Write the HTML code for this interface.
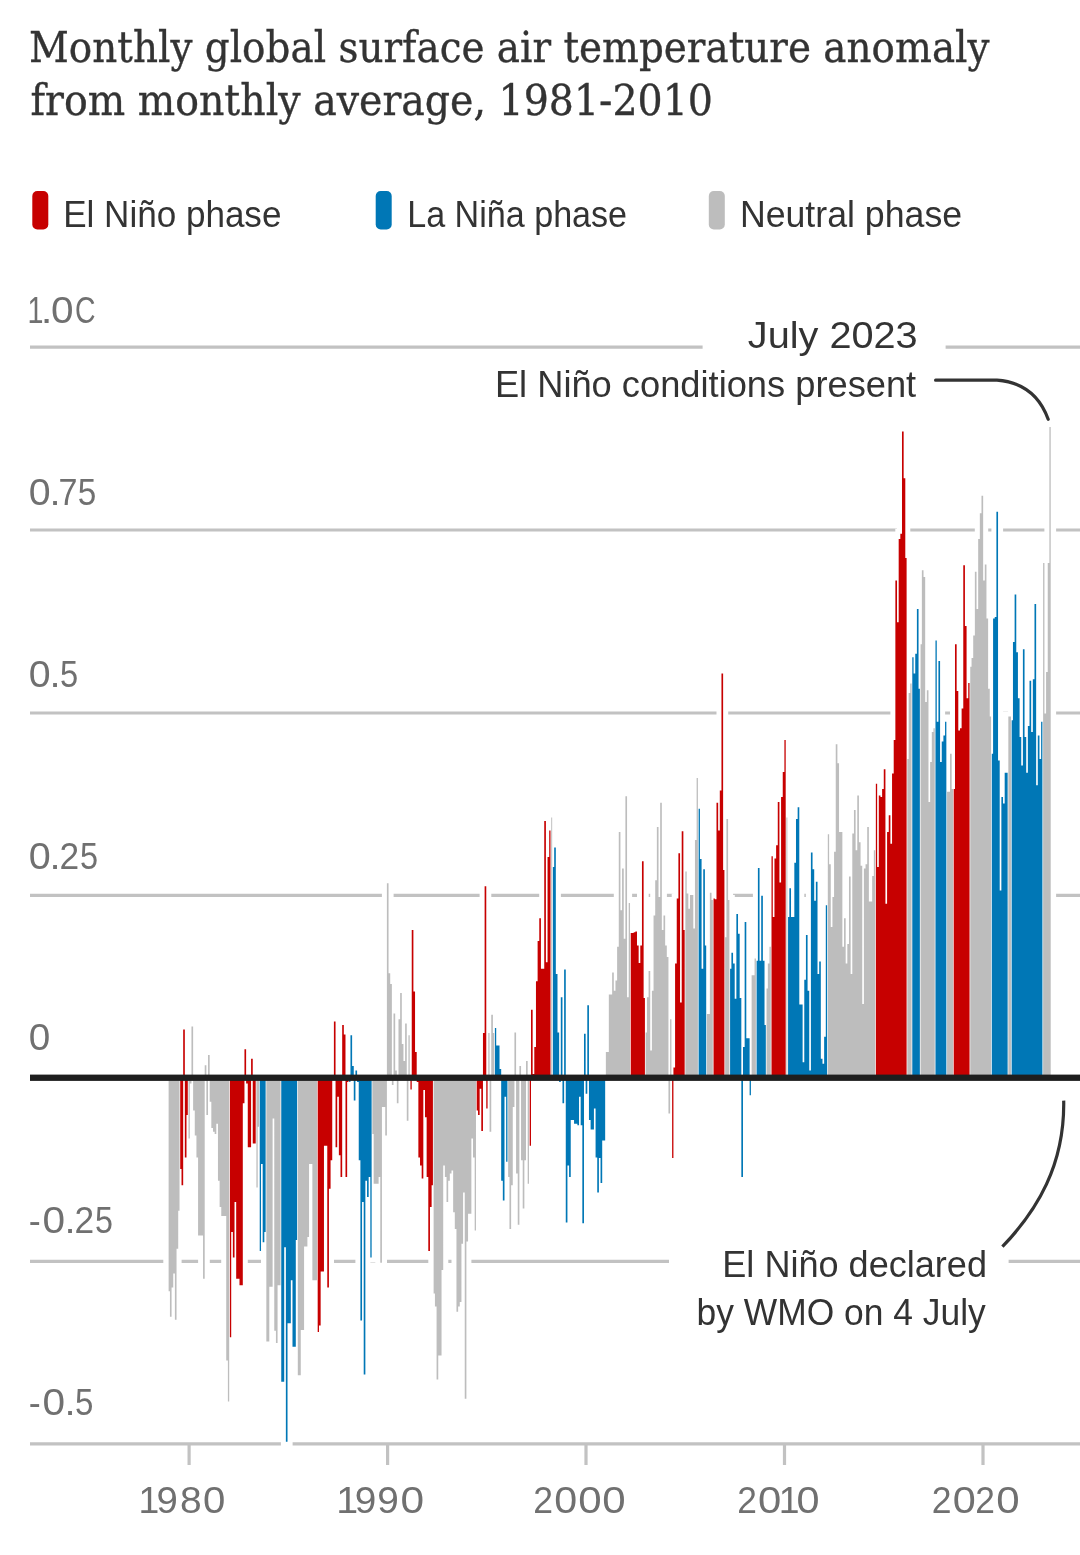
<!DOCTYPE html>
<html lang="en"><head><meta charset="utf-8"><title>Monthly global surface air temperature anomaly</title>
<style>html,body{margin:0;padding:0;background:#fff}body{width:1080px;height:1555px;overflow:hidden}svg{display:block}.ttl{font-family:"DejaVu Serif","Liberation Serif",serif;font-size:42px;fill:#333;stroke:#333;stroke-width:.35px}.lg{font-family:"Liberation Sans",sans-serif;font-size:36px;fill:#333}.ax{font-family:"Liberation Sans",sans-serif;font-size:36px;fill:#707070}.an{font-family:"Liberation Sans",sans-serif;font-size:36px;fill:#333}</style></head><body>
<svg width="1080" height="1555" viewBox="0 0 1080 1555">
<rect width="1080" height="1555" fill="#fff"/>
<text class="ttl" x="29.00" y="62.3" textLength="960.50" lengthAdjust="spacingAndGlyphs">Monthly global surface air temperature anomaly</text>
<text class="ttl" x="30.40" y="115.0" textLength="682.60" lengthAdjust="spacingAndGlyphs">from monthly average, 1981-2010</text>
<rect x="32.3" y="191" width="16" height="38.5" rx="5" ry="5" fill="#c70000"/>
<text class="lg" x="63.20" y="226.5" textLength="218.20" lengthAdjust="spacingAndGlyphs">El Niño phase</text>
<rect x="375.7" y="191" width="16" height="38.5" rx="5" ry="5" fill="#0077b6"/>
<text class="lg" x="407.20" y="226.5" textLength="219.90" lengthAdjust="spacingAndGlyphs">La Niña phase</text>
<rect x="708.8" y="191" width="16" height="38.5" rx="5" ry="5" fill="#bdbdbd"/>
<text class="lg" x="739.90" y="226.5" textLength="222.20" lengthAdjust="spacingAndGlyphs">Neutral phase</text>
<g stroke="#c2c2c2" stroke-width="3.2">
<line x1="30" x2="1080" y1="347.2" y2="347.2"/>
<line x1="30" x2="1080" y1="530.0" y2="530.0"/>
<line x1="30" x2="1080" y1="713.0" y2="713.0"/>
<line x1="30" x2="1080" y1="895.3" y2="895.3"/>
<line x1="30" x2="1080" y1="1261.4" y2="1261.4"/>
<line x1="30" x2="1080" y1="1443.9" y2="1443.9"/>
<line x1="189.1" x2="189.1" y1="1444" y2="1465"/>
<line x1="387.6" x2="387.6" y1="1444" y2="1465"/>
<line x1="586.0" x2="586.0" y1="1444" y2="1465"/>
<line x1="784.5" x2="784.5" y1="1444" y2="1465"/>
<line x1="983.0" x2="983.0" y1="1444" y2="1465"/>
</g>
<text class="ax" y="322.8"><tspan x="27.54" textLength="15.98" lengthAdjust="spacingAndGlyphs">1</tspan><tspan x="40.65" textLength="11.70" lengthAdjust="spacingAndGlyphs">.</tspan><tspan x="50.91" textLength="22.57" lengthAdjust="spacingAndGlyphs">0</tspan><tspan x="74.96" textLength="20.53" lengthAdjust="spacingAndGlyphs">C</tspan></text>
<text class="ax" y="504.7"><tspan x="28.76" textLength="21.87" lengthAdjust="spacingAndGlyphs">0</tspan><tspan x="49.44" textLength="11.11" lengthAdjust="spacingAndGlyphs">.</tspan><tspan x="58.55" textLength="18.97" lengthAdjust="spacingAndGlyphs">7</tspan><tspan x="77.87" textLength="18.53" lengthAdjust="spacingAndGlyphs">5</tspan></text>
<text class="ax" y="686.5"><tspan x="28.76" textLength="21.87" lengthAdjust="spacingAndGlyphs">0</tspan><tspan x="49.44" textLength="11.11" lengthAdjust="spacingAndGlyphs">.</tspan><tspan x="60.09" textLength="18.18" lengthAdjust="spacingAndGlyphs">5</tspan></text>
<text class="ax" y="868.6"><tspan x="28.65" textLength="21.99" lengthAdjust="spacingAndGlyphs">0</tspan><tspan x="49.44" textLength="11.11" lengthAdjust="spacingAndGlyphs">.</tspan><tspan x="59.62" textLength="19.65" lengthAdjust="spacingAndGlyphs">2</tspan><tspan x="79.90" textLength="18.06" lengthAdjust="spacingAndGlyphs">5</tspan></text>
<text class="ax" y="1050.4"><tspan x="28.78" textLength="21.52" lengthAdjust="spacingAndGlyphs">0</tspan></text>
<text class="ax" y="1232.7"><tspan x="28.70" textLength="12.00" lengthAdjust="spacingAndGlyphs">-</tspan><tspan x="42.61" textLength="22.57" lengthAdjust="spacingAndGlyphs">0</tspan><tspan x="64.44" textLength="11.11" lengthAdjust="spacingAndGlyphs">.</tspan><tspan x="74.62" textLength="19.65" lengthAdjust="spacingAndGlyphs">2</tspan><tspan x="95.11" textLength="17.94" lengthAdjust="spacingAndGlyphs">5</tspan></text>
<text class="ax" y="1414.8"><tspan x="28.70" textLength="12.00" lengthAdjust="spacingAndGlyphs">-</tspan><tspan x="42.61" textLength="22.57" lengthAdjust="spacingAndGlyphs">0</tspan><tspan x="64.44" textLength="11.11" lengthAdjust="spacingAndGlyphs">.</tspan><tspan x="75.08" textLength="18.41" lengthAdjust="spacingAndGlyphs">5</tspan></text>
<text class="ax" y="1512.8"><tspan x="138.41" textLength="20.77" lengthAdjust="spacingAndGlyphs">1</tspan><tspan x="156.50" textLength="21.31" lengthAdjust="spacingAndGlyphs">9</tspan><tspan x="180.01" textLength="21.68" lengthAdjust="spacingAndGlyphs">8</tspan><tspan x="203.13" textLength="22.33" lengthAdjust="spacingAndGlyphs">0</tspan></text>
<text class="ax" y="1512.8"><tspan x="336.21" textLength="21.91" lengthAdjust="spacingAndGlyphs">1</tspan><tspan x="354.78" textLength="21.55" lengthAdjust="spacingAndGlyphs">9</tspan><tspan x="377.38" textLength="21.55" lengthAdjust="spacingAndGlyphs">9</tspan><tspan x="400.44" textLength="23.61" lengthAdjust="spacingAndGlyphs">0</tspan></text>
<text class="ax" y="1512.8"><tspan x="533.21" textLength="19.78" lengthAdjust="spacingAndGlyphs">2</tspan><tspan x="554.29" textLength="22.92" lengthAdjust="spacingAndGlyphs">0</tspan><tspan x="578.15" textLength="23.38" lengthAdjust="spacingAndGlyphs">0</tspan><tspan x="602.25" textLength="23.38" lengthAdjust="spacingAndGlyphs">0</tspan></text>
<text class="ax" y="1512.8"><tspan x="737.22" textLength="19.65" lengthAdjust="spacingAndGlyphs">2</tspan><tspan x="758.06" textLength="23.27" lengthAdjust="spacingAndGlyphs">0</tspan><tspan x="778.71" textLength="20.77" lengthAdjust="spacingAndGlyphs">1</tspan><tspan x="796.48" textLength="23.03" lengthAdjust="spacingAndGlyphs">0</tspan></text>
<text class="ax" y="1512.8"><tspan x="931.71" textLength="19.78" lengthAdjust="spacingAndGlyphs">2</tspan><tspan x="952.78" textLength="23.03" lengthAdjust="spacingAndGlyphs">0</tspan><tspan x="975.32" textLength="19.65" lengthAdjust="spacingAndGlyphs">2</tspan><tspan x="996.25" textLength="23.38" lengthAdjust="spacingAndGlyphs">0</tspan></text>
<path fill="#fff" d="M163.3 1072.7h11.7v223.5h-11.7zM164.9 1072.7h11.7v249.1h-11.7zM166.6 1072.7h11.7v219.8h-11.7zM168.2 1072.7h11.7v205.9h-11.7zM169.9 1072.7h11.7v252.0h-11.7zM171.6 1072.7h11.7v181.1h-11.7zM173.2 1072.7h11.7v143.1h-11.7zM174.9 1072.7h11.7v101.4h-11.7zM176.5 1072.7h11.7v117.5h-11.7zM178.2 1024.4h11.7v58.3h-11.7zM179.8 1072.7h11.7v89.7h-11.7zM181.5 1072.7h11.7v47.3h-11.7zM183.1 1072.7h11.7v70.7h-11.7zM184.8 1072.7h11.7v15.8h-11.7zM186.5 1021.5h11.7v61.2h-11.7zM188.1 1072.7h11.7v42.9h-11.7zM189.8 1072.7h11.7v67.8h-11.7zM191.4 1072.7h11.7v89.7h-11.7zM193.1 1072.7h11.7v167.9h-11.7zM194.7 1072.7h11.7v167.9h-11.7zM196.4 1072.7h11.7v167.9h-11.7zM198.1 1072.7h11.7v211.1h-11.7zM199.7 1060.3h11.7v22.4h-11.7zM201.4 1072.7h11.7v47.3h-11.7zM203.0 1050.0h11.7v32.7h-11.7zM204.7 1072.7h11.7v34.1h-11.7zM206.3 1072.7h11.7v60.4h-11.7zM208.0 1072.7h11.7v64.1h-11.7zM209.6 1072.7h11.7v66.3h-11.7zM211.3 1072.7h11.7v56.1h-11.7zM213.0 1072.7h11.7v113.1h-11.7zM214.6 1072.7h11.7v139.4h-11.7zM216.3 1072.7h11.7v148.2h-11.7zM217.9 1072.7h11.7v148.2h-11.7zM219.6 1072.7h11.7v148.2h-11.7zM221.2 1072.7h11.7v292.9h-11.7zM222.9 1072.7h11.7v333.9h-11.7zM224.6 1072.7h11.7v269.5h-11.7zM226.2 1072.7h11.7v164.3h-11.7zM227.9 1072.7h11.7v189.9h-11.7zM229.5 1072.7h11.7v134.3h-11.7zM231.2 1072.7h11.7v211.1h-11.7zM232.8 1072.7h11.7v211.1h-11.7zM234.5 1072.7h11.7v217.6h-11.7zM236.1 1072.7h11.7v217.6h-11.7zM237.8 1072.7h11.7v35.6h-11.7zM239.5 1044.2h11.7v38.5h-11.7zM241.1 1072.7h11.7v15.8h-11.7zM242.8 1072.7h11.7v79.5h-11.7zM244.4 1072.7h11.7v79.5h-11.7zM246.1 1053.7h11.7v29.0h-11.7zM247.7 1072.7h11.7v75.8h-11.7zM249.4 1072.7h11.7v75.8h-11.7zM251.1 1072.7h11.7v119.7h-11.7zM252.7 1072.7h11.7v59.0h-11.7zM254.4 1072.7h11.7v183.3h-11.7zM256.0 1072.7h11.7v96.3h-11.7zM257.7 1072.7h11.7v174.5h-11.7zM259.3 1072.7h11.7v164.3h-11.7zM261.0 1072.7h11.7v273.9h-11.7zM262.6 1072.7h11.7v273.9h-11.7zM264.3 1072.7h11.7v219.1h-11.7zM266.0 1072.7h11.7v219.1h-11.7zM267.6 1072.7h11.7v50.9h-11.7zM269.3 1072.7h11.7v263.0h-11.7zM270.9 1072.7h11.7v275.4h-11.7zM272.6 1072.7h11.7v217.6h-11.7zM274.2 1072.7h11.7v217.6h-11.7zM275.9 1072.7h11.7v314.1h-11.7zM277.6 1072.7h11.7v314.1h-11.7zM279.2 1072.7h11.7v179.6h-11.7zM280.9 1072.7h11.7v374.1h-11.7zM282.5 1072.7h11.7v255.6h-11.7zM284.2 1072.7h11.7v255.6h-11.7zM285.8 1072.7h11.7v212.5h-11.7zM287.5 1072.7h11.7v279.0h-11.7zM289.1 1072.7h11.7v279.0h-11.7zM290.8 1072.7h11.7v172.3h-11.7zM292.5 1072.7h11.7v307.6h-11.7zM294.1 1072.7h11.7v307.6h-11.7zM295.8 1072.7h11.7v262.2h-11.7zM297.4 1072.7h11.7v262.2h-11.7zM299.1 1072.7h11.7v178.9h-11.7zM300.7 1072.7h11.7v178.9h-11.7zM302.4 1072.7h11.7v169.4h-11.7zM304.1 1072.7h11.7v96.3h-11.7zM305.7 1072.7h11.7v96.3h-11.7zM307.4 1072.7h11.7v212.5h-11.7zM309.0 1072.7h11.7v212.5h-11.7zM310.7 1072.7h11.7v212.5h-11.7zM312.3 1072.7h11.7v264.4h-11.7zM314.0 1072.7h11.7v257.8h-11.7zM315.6 1072.7h11.7v203.7h-11.7zM317.3 1072.7h11.7v203.7h-11.7zM319.0 1072.7h11.7v78.0h-11.7zM320.6 1072.7h11.7v78.0h-11.7zM322.3 1072.7h11.7v219.8h-11.7zM323.9 1072.7h11.7v121.1h-11.7zM325.6 1072.7h11.7v92.6h-11.7zM327.2 1072.7h11.7v12.2h-11.7zM328.9 1016.4h11.7v66.3h-11.7zM330.6 1072.7h11.7v79.5h-11.7zM332.2 1072.7h11.7v29.0h-11.7zM333.9 1072.7h11.7v87.5h-11.7zM335.5 1072.7h11.7v109.4h-11.7zM337.2 1020.1h11.7v62.6h-11.7zM338.8 1029.6h11.7v53.1h-11.7zM340.5 1072.7h11.7v109.4h-11.7zM342.1 1072.7h11.7v14.4h-11.7zM343.8 1072.7h11.7v14.4h-11.7zM345.5 1030.3h11.7v52.4h-11.7zM347.1 1061.0h11.7v21.7h-11.7zM348.8 1072.7h11.7v32.7h-11.7zM350.4 1065.4h11.7v17.3h-11.7zM352.1 1072.7h11.7v14.4h-11.7zM353.7 1072.7h11.7v92.6h-11.7zM355.4 1072.7h11.7v252.7h-11.7zM357.1 1072.7h11.7v134.3h-11.7zM358.7 1072.7h11.7v306.8h-11.7zM360.4 1072.7h11.7v113.1h-11.7zM362.0 1072.7h11.7v129.2h-11.7zM363.7 1072.7h11.7v109.4h-11.7zM365.3 1072.7h11.7v189.9h-11.7zM367.0 1072.7h11.7v66.3h-11.7zM368.6 1072.7h11.7v116.0h-11.7zM370.3 1072.7h11.7v116.0h-11.7zM372.0 1072.7h11.7v116.0h-11.7zM373.6 1072.7h11.7v109.4h-11.7zM375.3 1072.7h11.7v195.0h-11.7zM376.9 1072.7h11.7v39.2h-11.7zM378.6 1072.7h11.7v39.2h-11.7zM380.2 1072.7h11.7v67.8h-11.7zM381.9 878.2h11.7v204.5h-11.7zM383.6 968.2h11.7v114.5h-11.7zM385.2 979.1h11.7v103.6h-11.7zM386.9 1072.7h11.7v17.3h-11.7zM388.5 1008.4h11.7v74.3h-11.7zM390.2 1065.4h11.7v17.3h-11.7zM391.8 1072.7h11.7v35.6h-11.7zM393.5 1014.2h11.7v68.5h-11.7zM395.1 987.9h11.7v94.8h-11.7zM396.8 1039.1h11.7v43.6h-11.7zM398.5 1055.9h11.7v26.8h-11.7zM400.1 1018.6h11.7v64.1h-11.7zM401.8 1072.7h11.7v53.1h-11.7zM403.4 1030.3h11.7v52.4h-11.7zM405.1 1072.7h11.7v21.7h-11.7zM406.7 925.0h11.7v157.7h-11.7zM408.4 986.4h11.7v96.3h-11.7zM410.1 1047.1h11.7v35.6h-11.7zM411.7 1072.7h11.7v14.4h-11.7zM413.4 1072.7h11.7v89.7h-11.7zM415.0 1072.7h11.7v97.7h-11.7zM416.7 1072.7h11.7v110.9h-11.7zM418.3 1072.7h11.7v22.4h-11.7zM420.0 1072.7h11.7v49.5h-11.7zM421.6 1072.7h11.7v109.4h-11.7zM423.3 1072.7h11.7v183.3h-11.7zM425.0 1072.7h11.7v139.4h-11.7zM426.6 1072.7h11.7v117.5h-11.7zM428.3 1072.7h11.7v225.7h-11.7zM429.9 1072.7h11.7v238.8h-11.7zM431.6 1072.7h11.7v311.9h-11.7zM433.2 1072.7h11.7v287.8h-11.7zM434.9 1072.7h11.7v287.8h-11.7zM436.6 1072.7h11.7v202.3h-11.7zM438.2 1072.7h11.7v97.7h-11.7zM439.9 1072.7h11.7v109.4h-11.7zM441.5 1072.7h11.7v134.3h-11.7zM443.2 1072.7h11.7v113.1h-11.7zM444.8 1072.7h11.7v105.8h-11.7zM446.5 1072.7h11.7v102.8h-11.7zM448.1 1072.7h11.7v144.5h-11.7zM449.8 1072.7h11.7v161.3h-11.7zM451.5 1072.7h11.7v244.0h-11.7zM453.1 1072.7h11.7v238.8h-11.7zM454.8 1072.7h11.7v234.4h-11.7zM456.4 1072.7h11.7v176.0h-11.7zM458.1 1072.7h11.7v124.8h-11.7zM459.7 1072.7h11.7v331.0h-11.7zM461.4 1072.7h11.7v173.8h-11.7zM463.1 1072.7h11.7v146.0h-11.7zM464.7 1072.7h11.7v146.0h-11.7zM466.4 1072.7h11.7v70.7h-11.7zM468.0 1072.7h11.7v89.7h-11.7zM469.7 1072.7h11.7v162.8h-11.7zM471.3 1072.7h11.7v42.9h-11.7zM473.0 1072.7h11.7v47.3h-11.7zM474.6 1072.7h11.7v21.0h-11.7zM476.3 1072.7h11.7v63.4h-11.7zM478.0 1028.1h11.7v54.6h-11.7zM479.6 881.2h11.7v201.5h-11.7zM481.3 1072.7h11.7v40.7h-11.7zM482.9 1028.1h11.7v54.6h-11.7zM484.6 1072.7h11.7v64.1h-11.7zM486.2 1009.8h11.7v72.9h-11.7zM487.9 1028.1h11.7v54.6h-11.7zM489.6 1023.0h11.7v59.7h-11.7zM491.2 1040.5h11.7v42.2h-11.7zM492.9 1040.5h11.7v42.2h-11.7zM494.5 1063.9h11.7v18.8h-11.7zM496.2 1072.7h11.7v113.1h-11.7zM497.8 1072.7h11.7v132.8h-11.7zM499.5 1072.7h11.7v29.0h-11.7zM501.1 1072.7h11.7v94.1h-11.7zM502.8 1072.7h11.7v109.4h-11.7zM504.5 1072.7h11.7v161.3h-11.7zM506.1 1072.7h11.7v117.5h-11.7zM507.8 1072.7h11.7v39.2h-11.7zM509.4 1027.4h11.7v55.3h-11.7zM511.1 1072.7h11.7v105.8h-11.7zM512.7 1072.7h11.7v157.0h-11.7zM514.4 1061.0h11.7v21.7h-11.7zM516.1 1072.7h11.7v92.6h-11.7zM517.7 1072.7h11.7v140.9h-11.7zM519.4 1072.7h11.7v92.6h-11.7zM521.0 1055.9h11.7v26.8h-11.7zM522.7 1072.7h11.7v116.0h-11.7zM524.3 1072.7h11.7v78.0h-11.7zM526.0 1004.7h11.7v78.0h-11.7zM527.6 1069.0h11.7v13.7h-11.7zM529.3 1042.0h11.7v40.7h-11.7zM531.0 976.2h11.7v106.5h-11.7zM532.6 936.0h11.7v146.7h-11.7zM534.3 913.3h11.7v169.4h-11.7zM535.9 963.8h11.7v118.9h-11.7zM537.6 963.8h11.7v118.9h-11.7zM539.2 816.1h11.7v266.6h-11.7zM540.9 957.2h11.7v125.5h-11.7zM542.6 851.9h11.7v230.8h-11.7zM544.2 825.6h11.7v257.1h-11.7zM545.9 812.4h11.7v270.3h-11.7zM547.5 862.1h11.7v220.6h-11.7zM549.2 842.4h11.7v240.3h-11.7zM550.8 968.9h11.7v113.8h-11.7zM552.5 1027.4h11.7v55.3h-11.7zM554.1 1072.7h11.7v14.4h-11.7zM555.8 992.3h11.7v90.4h-11.7zM557.5 1072.7h11.7v35.6h-11.7zM559.1 964.5h11.7v118.2h-11.7zM560.8 1072.7h11.7v154.8h-11.7zM562.4 1072.7h11.7v97.7h-11.7zM564.1 1072.7h11.7v109.4h-11.7zM565.7 1072.7h11.7v52.4h-11.7zM567.4 1072.7h11.7v52.4h-11.7zM569.1 1072.7h11.7v56.1h-11.7zM570.7 1072.7h11.7v56.1h-11.7zM572.4 1072.7h11.7v57.5h-11.7zM574.0 1072.7h11.7v29.0h-11.7zM575.7 1072.7h11.7v57.5h-11.7zM577.3 1072.7h11.7v155.5h-11.7zM579.0 1028.8h11.7v53.9h-11.7zM580.6 1072.7h11.7v26.1h-11.7zM582.3 1000.3h11.7v82.4h-11.7zM584.0 1072.7h11.7v52.4h-11.7zM585.6 1072.7h11.7v61.9h-11.7zM587.3 1072.7h11.7v61.9h-11.7zM588.9 1072.7h11.7v40.7h-11.7zM590.6 1072.7h11.7v89.7h-11.7zM592.2 1072.7h11.7v124.8h-11.7zM593.9 1072.7h11.7v90.4h-11.7zM595.6 1072.7h11.7v115.3h-11.7zM597.2 1072.7h11.7v72.9h-11.7zM598.9 1072.7h11.7v72.9h-11.7zM600.5 1047.1h11.7v35.6h-11.7zM602.2 1047.1h11.7v35.6h-11.7zM603.8 989.4h11.7v93.3h-11.7zM605.5 989.4h11.7v93.3h-11.7zM607.1 967.4h11.7v115.3h-11.7zM608.8 985.7h11.7v97.0h-11.7zM610.5 975.5h11.7v107.2h-11.7zM612.1 941.8h11.7v140.9h-11.7zM613.8 827.1h11.7v255.6h-11.7zM615.4 905.3h11.7v177.4h-11.7zM617.1 863.6h11.7v219.1h-11.7zM618.7 933.8h11.7v148.9h-11.7zM620.4 791.2h11.7v291.5h-11.7zM622.1 992.3h11.7v90.4h-11.7zM623.7 898.0h11.7v184.7h-11.7zM625.4 927.9h11.7v154.8h-11.7zM627.0 927.9h11.7v154.8h-11.7zM628.7 927.2h11.7v155.5h-11.7zM630.3 926.5h11.7v156.2h-11.7zM632.0 940.4h11.7v142.3h-11.7zM633.6 957.9h11.7v124.8h-11.7zM635.3 940.4h11.7v142.3h-11.7zM637.0 856.3h11.7v226.4h-11.7zM638.6 993.0h11.7v89.7h-11.7zM640.3 1027.4h11.7v55.3h-11.7zM641.9 992.3h11.7v90.4h-11.7zM643.6 966.0h11.7v116.7h-11.7zM645.2 1045.6h11.7v37.1h-11.7zM646.9 985.7h11.7v97.0h-11.7zM648.6 910.4h11.7v172.3h-11.7zM650.2 875.3h11.7v207.4h-11.7zM651.9 821.9h11.7v260.8h-11.7zM653.5 892.1h11.7v190.6h-11.7zM655.2 797.8h11.7v284.9h-11.7zM656.8 925.0h11.7v157.7h-11.7zM658.5 910.4h11.7v172.3h-11.7zM660.1 940.4h11.7v142.3h-11.7zM661.8 952.1h11.7v130.6h-11.7zM663.5 1072.7h11.7v45.8h-11.7zM665.1 1014.2h11.7v68.5h-11.7zM666.8 1072.7h11.7v90.4h-11.7zM668.4 1062.5h11.7v20.2h-11.7zM670.1 958.6h11.7v124.1h-11.7zM671.7 893.6h11.7v189.1h-11.7zM673.4 848.3h11.7v234.4h-11.7zM675.1 997.4h11.7v85.3h-11.7zM676.7 826.3h11.7v256.4h-11.7zM678.4 925.0h11.7v157.7h-11.7zM680.0 866.5h11.7v216.2h-11.7zM681.7 888.5h11.7v194.2h-11.7zM683.3 903.8h11.7v178.9h-11.7zM685.0 889.9h11.7v192.8h-11.7zM686.6 889.9h11.7v192.8h-11.7zM688.3 923.6h11.7v159.1h-11.7zM690.0 835.1h11.7v247.6h-11.7zM691.6 772.9h11.7v309.8h-11.7zM693.3 803.7h11.7v279.0h-11.7zM694.9 854.1h11.7v228.6h-11.7zM696.6 963.8h11.7v118.9h-11.7zM698.2 864.3h11.7v218.4h-11.7zM699.9 940.4h11.7v142.3h-11.7zM701.6 1009.1h11.7v73.6h-11.7zM703.2 1009.1h11.7v73.6h-11.7zM704.9 887.7h11.7v195.0h-11.7zM706.5 895.0h11.7v187.7h-11.7zM708.2 893.6h11.7v189.1h-11.7zM709.8 894.3h11.7v188.4h-11.7zM711.5 797.8h11.7v284.9h-11.7zM713.1 825.6h11.7v257.1h-11.7zM714.8 785.4h11.7v297.3h-11.7zM716.5 668.4h11.7v414.3h-11.7zM718.1 865.1h11.7v217.6h-11.7zM719.8 932.3h11.7v150.4h-11.7zM721.4 813.9h11.7v268.8h-11.7zM723.1 895.0h11.7v187.7h-11.7zM724.7 963.8h11.7v118.9h-11.7zM726.4 947.7h11.7v135.0h-11.7zM728.1 958.6h11.7v124.1h-11.7zM729.7 993.7h11.7v89.0h-11.7zM731.4 908.9h11.7v173.8h-11.7zM733.0 928.7h11.7v154.0h-11.7zM734.7 993.0h11.7v89.7h-11.7zM736.3 1072.7h11.7v109.4h-11.7zM738.0 1042.0h11.7v40.7h-11.7zM739.6 917.0h11.7v165.7h-11.7zM741.3 1033.2h11.7v49.5h-11.7zM743.0 1033.2h11.7v49.5h-11.7zM744.6 1072.7h11.7v27.5h-11.7zM746.3 970.3h11.7v112.4h-11.7zM747.9 970.3h11.7v112.4h-11.7zM749.6 953.5h11.7v129.2h-11.7zM751.2 955.7h11.7v127.0h-11.7zM752.9 862.9h11.7v219.8h-11.7zM754.6 955.7h11.7v127.0h-11.7zM756.2 890.7h11.7v192.0h-11.7zM757.9 955.7h11.7v127.0h-11.7zM759.5 1020.1h11.7v62.6h-11.7zM761.2 983.5h11.7v99.2h-11.7zM762.8 958.6h11.7v124.1h-11.7zM764.5 941.8h11.7v140.9h-11.7zM766.1 851.2h11.7v231.5h-11.7zM767.8 911.9h11.7v170.8h-11.7zM769.5 853.4h11.7v229.3h-11.7zM771.1 840.2h11.7v242.5h-11.7zM772.8 797.1h11.7v285.6h-11.7zM774.4 877.5h11.7v205.2h-11.7zM776.1 792.0h11.7v290.7h-11.7zM777.7 767.1h11.7v315.6h-11.7zM779.4 734.9h11.7v347.8h-11.7zM781.1 812.4h11.7v270.3h-11.7zM782.7 911.9h11.7v170.8h-11.7zM784.4 883.3h11.7v199.4h-11.7zM786.0 911.9h11.7v170.8h-11.7zM787.7 911.9h11.7v170.8h-11.7zM789.3 857.8h11.7v224.9h-11.7zM791.0 813.9h11.7v268.8h-11.7zM792.6 802.2h11.7v280.5h-11.7zM794.3 999.6h11.7v83.1h-11.7zM796.0 999.6h11.7v83.1h-11.7zM797.6 1057.3h11.7v25.4h-11.7zM799.3 974.7h11.7v108.0h-11.7zM800.9 930.1h11.7v152.6h-11.7zM802.6 985.7h11.7v97.0h-11.7zM804.2 1065.4h11.7v17.3h-11.7zM805.9 847.5h11.7v235.2h-11.7zM807.6 864.3h11.7v218.4h-11.7zM809.2 895.8h11.7v186.9h-11.7zM810.9 876.8h11.7v205.9h-11.7zM812.5 968.9h11.7v113.8h-11.7zM814.2 956.5h11.7v126.2h-11.7zM815.8 1053.7h11.7v29.0h-11.7zM817.5 1058.8h11.7v23.9h-11.7zM819.1 1031.8h11.7v50.9h-11.7zM820.8 900.2h11.7v182.5h-11.7zM822.5 829.2h11.7v253.5h-11.7zM824.1 859.2h11.7v223.5h-11.7zM825.8 922.1h11.7v160.6h-11.7zM827.4 892.1h11.7v190.6h-11.7zM829.1 846.8h11.7v235.9h-11.7zM830.7 739.3h11.7v343.4h-11.7zM832.4 758.3h11.7v324.4h-11.7zM834.1 827.1h11.7v255.6h-11.7zM835.7 827.1h11.7v255.6h-11.7zM837.4 941.8h11.7v140.9h-11.7zM839.0 913.3h11.7v169.4h-11.7zM840.7 958.6h11.7v124.1h-11.7zM842.3 938.9h11.7v143.8h-11.7zM844.0 871.6h11.7v211.1h-11.7zM845.6 968.9h11.7v113.8h-11.7zM847.3 828.5h11.7v254.2h-11.7zM849.0 805.1h11.7v277.6h-11.7zM850.6 845.3h11.7v237.4h-11.7zM852.3 790.5h11.7v292.2h-11.7zM853.9 837.3h11.7v245.4h-11.7zM855.6 860.7h11.7v222.0h-11.7zM857.2 998.9h11.7v83.8h-11.7zM858.9 863.6h11.7v219.1h-11.7zM860.6 859.2h11.7v223.5h-11.7zM862.2 821.9h11.7v260.8h-11.7zM863.9 896.5h11.7v186.2h-11.7zM865.5 896.5h11.7v186.2h-11.7zM867.2 870.9h11.7v211.8h-11.7zM868.8 845.3h11.7v237.4h-11.7zM870.5 778.8h11.7v303.9h-11.7zM872.1 862.1h11.7v220.6h-11.7zM873.8 790.5h11.7v292.2h-11.7zM875.5 792.0h11.7v290.7h-11.7zM877.1 783.9h11.7v298.8h-11.7zM878.8 764.2h11.7v318.5h-11.7zM880.4 898.7h11.7v184.0h-11.7zM882.1 827.1h11.7v255.6h-11.7zM883.7 810.2h11.7v272.5h-11.7zM885.4 838.7h11.7v244.0h-11.7zM887.1 768.6h11.7v314.1h-11.7zM888.7 734.9h11.7v347.8h-11.7zM890.4 575.6h11.7v507.1h-11.7zM892.0 617.2h11.7v465.5h-11.7zM893.7 533.9h11.7v548.8h-11.7zM895.3 528.8h11.7v553.9h-11.7zM897.0 426.4h11.7v656.3h-11.7zM898.6 473.2h11.7v609.5h-11.7zM900.3 552.9h11.7v529.8h-11.7zM902.0 753.9h11.7v328.8h-11.7zM903.6 688.1h11.7v394.6h-11.7zM905.3 678.6h11.7v404.1h-11.7zM906.9 652.3h11.7v430.4h-11.7zM908.6 668.4h11.7v414.3h-11.7zM910.2 648.7h11.7v434.0h-11.7zM911.9 604.1h11.7v478.6h-11.7zM913.6 683.8h11.7v398.9h-11.7zM915.2 639.2h11.7v443.5h-11.7zM916.9 565.3h11.7v517.4h-11.7zM918.5 571.9h11.7v510.8h-11.7zM920.2 696.9h11.7v385.8h-11.7zM921.8 685.2h11.7v397.5h-11.7zM923.5 797.1h11.7v285.6h-11.7zM925.1 756.9h11.7v325.8h-11.7zM926.8 726.9h11.7v355.8h-11.7zM928.5 723.2h11.7v359.5h-11.7zM930.1 635.5h11.7v447.2h-11.7zM931.8 716.7h11.7v366.0h-11.7zM933.4 656.0h11.7v426.7h-11.7zM935.1 756.9h11.7v325.8h-11.7zM936.7 736.4h11.7v346.3h-11.7zM938.4 730.5h11.7v352.2h-11.7zM940.1 716.7h11.7v366.0h-11.7zM941.7 786.8h11.7v295.9h-11.7zM943.4 786.8h11.7v295.9h-11.7zM945.0 748.8h11.7v333.9h-11.7zM946.7 783.9h11.7v298.8h-11.7zM948.3 783.9h11.7v298.8h-11.7zM950.0 639.2h11.7v443.5h-11.7zM951.6 685.9h11.7v396.8h-11.7zM953.3 725.4h11.7v357.3h-11.7zM955.0 723.2h11.7v359.5h-11.7zM956.6 703.5h11.7v379.2h-11.7zM958.3 560.2h11.7v522.5h-11.7zM959.9 620.9h11.7v461.8h-11.7zM961.6 693.3h11.7v389.4h-11.7zM963.2 677.9h11.7v404.8h-11.7zM964.9 661.8h11.7v420.9h-11.7zM966.6 653.0h11.7v429.7h-11.7zM968.2 630.4h11.7v452.3h-11.7zM969.9 566.8h11.7v515.9h-11.7zM971.5 604.1h11.7v478.6h-11.7zM973.2 533.9h11.7v548.8h-11.7zM974.8 508.3h11.7v574.4h-11.7zM976.5 490.7h11.7v592.0h-11.7zM978.1 575.6h11.7v507.1h-11.7zM979.8 559.5h11.7v523.2h-11.7zM981.5 613.6h11.7v469.1h-11.7zM983.1 683.8h11.7v398.9h-11.7zM984.8 711.5h11.7v371.2h-11.7zM986.4 748.8h11.7v333.9h-11.7zM988.1 613.6h11.7v469.1h-11.7zM989.7 612.1h11.7v470.6h-11.7zM991.4 506.8h11.7v575.9h-11.7zM993.1 755.4h11.7v327.3h-11.7zM994.7 885.5h11.7v197.2h-11.7zM996.4 792.0h11.7v290.7h-11.7zM998.0 798.5h11.7v284.2h-11.7zM999.7 767.8h11.7v314.9h-11.7zM1001.3 767.8h11.7v314.9h-11.7zM1003.0 711.5h11.7v371.2h-11.7zM1004.6 711.5h11.7v371.2h-11.7zM1006.3 715.2h11.7v367.5h-11.7zM1008.0 637.0h11.7v445.7h-11.7zM1009.6 589.4h11.7v493.3h-11.7zM1011.3 647.2h11.7v435.5h-11.7zM1012.9 693.3h11.7v389.4h-11.7zM1014.6 732.0h11.7v350.7h-11.7zM1016.2 760.5h11.7v322.2h-11.7zM1017.9 644.3h11.7v438.4h-11.7zM1019.6 732.0h11.7v350.7h-11.7zM1021.2 767.8h11.7v314.9h-11.7zM1022.9 721.0h11.7v361.7h-11.7zM1024.5 675.7h11.7v407.0h-11.7zM1026.2 726.9h11.7v355.8h-11.7zM1027.8 674.3h11.7v408.4h-11.7zM1029.5 598.9h11.7v483.8h-11.7zM1031.1 780.3h11.7v302.4h-11.7zM1032.8 730.5h11.7v352.2h-11.7zM1034.5 753.9h11.7v328.8h-11.7zM1036.1 716.7h11.7v366.0h-11.7zM1037.8 558.0h11.7v524.7h-11.7zM1039.4 708.6h11.7v374.1h-11.7zM1041.1 666.9h11.7v415.8h-11.7zM1042.7 558.0h11.7v524.7h-11.7zM1044.4 422.0h11.7v660.7h-11.7z"/>
<path fill="#bdbdbd" d="M168.62 1077.7L169.93 1077.7L169.93 1077.7L171.58 1077.7L171.58 1077.7L173.24 1077.7L173.24 1077.7L174.90 1077.7L174.90 1077.7L176.55 1077.7L176.55 1077.7L178.21 1077.7L178.21 1077.7L179.52 1077.7L179.52 1210.8L178.21 1210.8L178.21 1248.8L176.55 1248.8L176.55 1319.7L174.90 1319.7L174.90 1273.6L173.24 1273.6L173.24 1287.5L171.58 1287.5L171.58 1316.8L169.93 1316.8L169.93 1291.2L168.62 1291.2zM188.50 1077.7L189.80 1077.7L189.80 1077.7L191.46 1077.7L191.46 1026.5L193.12 1026.5L193.12 1077.7L194.77 1077.7L194.77 1077.7L196.43 1077.7L196.43 1077.7L198.08 1077.7L198.08 1077.7L199.74 1077.7L199.74 1077.7L201.40 1077.7L201.40 1077.7L203.05 1077.7L203.05 1077.7L204.71 1077.7L204.71 1065.3L206.37 1065.3L206.37 1077.7L208.02 1077.7L208.02 1055.0L209.68 1055.0L209.68 1077.7L211.33 1077.7L211.33 1077.7L212.99 1077.7L212.99 1077.7L214.65 1077.7L214.65 1077.7L216.30 1077.7L216.30 1077.7L217.96 1077.7L217.96 1077.7L219.62 1077.7L219.62 1077.7L221.27 1077.7L221.27 1077.7L222.93 1077.7L222.93 1077.7L224.58 1077.7L224.58 1077.7L226.24 1077.7L226.24 1077.7L227.90 1077.7L227.90 1077.7L229.20 1077.7L229.20 1401.6L227.90 1401.6L227.90 1360.6L226.24 1360.6L226.24 1215.9L224.58 1215.9L224.58 1215.9L222.93 1215.9L222.93 1215.9L221.27 1215.9L221.27 1207.1L219.62 1207.1L219.62 1180.8L217.96 1180.8L217.96 1123.8L216.30 1123.8L216.30 1134.0L214.65 1134.0L214.65 1131.8L212.99 1131.8L212.99 1128.1L211.33 1128.1L211.33 1101.8L209.68 1101.8L209.68 1077.7L208.02 1077.7L208.02 1115.0L206.37 1115.0L206.37 1077.7L204.71 1077.7L204.71 1278.8L203.05 1278.8L203.05 1235.6L201.40 1235.6L201.40 1235.6L199.74 1235.6L199.74 1235.6L198.08 1235.6L198.08 1157.4L196.43 1157.4L196.43 1135.5L194.77 1135.5L194.77 1110.6L193.12 1110.6L193.12 1077.7L191.46 1077.7L191.46 1083.5L189.80 1083.5L189.80 1138.4L188.50 1138.4zM256.40 1077.7L257.71 1077.7L257.71 1077.7L259.02 1077.7L259.02 1126.7L257.71 1126.7L257.71 1187.4L256.40 1187.4zM266.34 1077.7L267.65 1077.7L267.65 1077.7L269.30 1077.7L269.30 1077.7L270.96 1077.7L270.96 1077.7L272.62 1077.7L272.62 1077.7L274.27 1077.7L274.27 1077.7L275.93 1077.7L275.93 1077.7L277.58 1077.7L277.58 1077.7L279.24 1077.7L279.24 1077.7L280.55 1077.7L280.55 1285.3L279.24 1285.3L279.24 1285.3L277.58 1285.3L277.58 1343.1L275.93 1343.1L275.93 1330.7L274.27 1330.7L274.27 1118.6L272.62 1118.6L272.62 1286.8L270.96 1286.8L270.96 1286.8L269.30 1286.8L269.30 1341.6L267.65 1341.6L267.65 1341.6L266.34 1341.6zM297.81 1077.7L299.12 1077.7L299.12 1077.7L300.77 1077.7L300.77 1077.7L302.43 1077.7L302.43 1077.7L304.08 1077.7L304.08 1077.7L305.74 1077.7L305.74 1077.7L307.40 1077.7L307.40 1077.7L309.05 1077.7L309.05 1077.7L310.71 1077.7L310.71 1077.7L312.37 1077.7L312.37 1077.7L314.02 1077.7L314.02 1077.7L315.68 1077.7L315.68 1077.7L316.98 1077.7L316.98 1280.2L315.68 1280.2L315.68 1280.2L314.02 1280.2L314.02 1280.2L312.37 1280.2L312.37 1164.0L310.71 1164.0L310.71 1164.0L309.05 1164.0L309.05 1237.1L307.40 1237.1L307.40 1246.6L305.74 1246.6L305.74 1246.6L304.08 1246.6L304.08 1329.9L302.43 1329.9L302.43 1329.9L300.77 1329.9L300.77 1375.3L299.12 1375.3L299.12 1375.3L297.81 1375.3zM372.34 1077.7L373.65 1077.7L373.65 1077.7L375.30 1077.7L375.30 1077.7L376.96 1077.7L376.96 1077.7L378.62 1077.7L378.62 1077.7L380.27 1077.7L380.27 1077.7L381.93 1077.7L381.93 1077.7L383.58 1077.7L383.58 1077.7L385.24 1077.7L385.24 1077.7L386.90 1077.7L386.90 883.2L388.55 883.2L388.55 973.2L390.21 973.2L390.21 984.1L391.87 984.1L391.87 1077.7L393.52 1077.7L393.52 1013.4L395.18 1013.4L395.18 1070.4L396.83 1070.4L396.83 1077.7L398.49 1077.7L398.49 1019.2L400.15 1019.2L400.15 992.9L401.80 992.9L401.80 1044.1L403.46 1044.1L403.46 1060.9L405.12 1060.9L405.12 1023.6L406.77 1023.6L406.77 1077.7L408.43 1077.7L408.43 1035.3L409.73 1035.3L409.73 1077.7L408.43 1077.7L408.43 1120.8L406.77 1120.8L406.77 1077.7L405.12 1077.7L405.12 1077.7L403.46 1077.7L403.46 1077.7L401.80 1077.7L401.80 1077.7L400.15 1077.7L400.15 1077.7L398.49 1077.7L398.49 1103.3L396.83 1103.3L396.83 1077.7L395.18 1077.7L395.18 1077.7L393.52 1077.7L393.52 1085.0L391.87 1085.0L391.87 1077.7L390.21 1077.7L390.21 1077.7L388.55 1077.7L388.55 1077.7L386.90 1077.7L386.90 1135.5L385.24 1135.5L385.24 1106.9L383.58 1106.9L383.58 1106.9L381.93 1106.9L381.93 1262.7L380.27 1262.7L380.27 1177.1L378.62 1177.1L378.62 1183.7L376.96 1183.7L376.96 1183.7L375.30 1183.7L375.30 1183.7L373.65 1183.7L373.65 1134.0L372.34 1134.0zM433.62 1077.7L434.93 1077.7L434.93 1077.7L436.58 1077.7L436.58 1077.7L438.24 1077.7L438.24 1077.7L439.90 1077.7L439.90 1077.7L441.55 1077.7L441.55 1077.7L443.21 1077.7L443.21 1077.7L444.87 1077.7L444.87 1077.7L446.52 1077.7L446.52 1077.7L448.18 1077.7L448.18 1077.7L449.83 1077.7L449.83 1077.7L451.49 1077.7L451.49 1077.7L453.15 1077.7L453.15 1077.7L454.80 1077.7L454.80 1077.7L456.46 1077.7L456.46 1077.7L458.12 1077.7L458.12 1077.7L459.77 1077.7L459.77 1077.7L461.43 1077.7L461.43 1077.7L463.08 1077.7L463.08 1077.7L464.74 1077.7L464.74 1077.7L466.40 1077.7L466.40 1077.7L468.05 1077.7L468.05 1077.7L469.71 1077.7L469.71 1077.7L471.37 1077.7L471.37 1077.7L473.02 1077.7L473.02 1077.7L474.68 1077.7L474.68 1077.7L475.98 1077.7L475.98 1230.5L474.68 1230.5L474.68 1157.4L473.02 1157.4L473.02 1138.4L471.37 1138.4L471.37 1213.7L469.71 1213.7L469.71 1213.7L468.05 1213.7L468.05 1241.5L466.40 1241.5L466.40 1398.7L464.74 1398.7L464.74 1192.5L463.08 1192.5L463.08 1243.7L461.43 1243.7L461.43 1302.1L459.77 1302.1L459.77 1306.5L458.12 1306.5L458.12 1311.7L456.46 1311.7L456.46 1229.0L454.80 1229.0L454.80 1212.2L453.15 1212.2L453.15 1170.5L451.49 1170.5L451.49 1173.5L449.83 1173.5L449.83 1180.8L448.18 1180.8L448.18 1202.0L446.52 1202.0L446.52 1177.1L444.87 1177.1L444.87 1165.4L443.21 1165.4L443.21 1270.0L441.55 1270.0L441.55 1355.5L439.90 1355.5L439.90 1355.5L438.24 1355.5L438.24 1379.6L436.58 1379.6L436.58 1306.5L434.93 1306.5L434.93 1293.4L433.62 1293.4zM488.28 1033.1L489.58 1033.1L489.58 1077.7L491.24 1077.7L491.24 1014.8L492.90 1014.8L492.90 1033.1L494.20 1033.1L494.20 1077.7L492.90 1077.7L492.90 1077.7L491.24 1077.7L491.24 1131.8L489.58 1131.8L489.58 1077.7L488.28 1077.7zM508.15 1077.7L509.46 1077.7L509.46 1077.7L511.12 1077.7L511.12 1077.7L512.77 1077.7L512.77 1077.7L514.43 1077.7L514.43 1032.4L516.08 1032.4L516.08 1077.7L517.74 1077.7L517.74 1077.7L519.40 1077.7L519.40 1066.0L521.05 1066.0L521.05 1077.7L522.71 1077.7L522.71 1077.7L524.37 1077.7L524.37 1077.7L526.02 1077.7L526.02 1060.9L527.68 1060.9L527.68 1077.7L528.98 1077.7L528.98 1183.7L527.68 1183.7L527.68 1077.7L526.02 1077.7L526.02 1160.3L524.37 1160.3L524.37 1208.6L522.71 1208.6L522.71 1160.3L521.05 1160.3L521.05 1077.7L519.40 1077.7L519.40 1224.7L517.74 1224.7L517.74 1173.5L516.08 1173.5L516.08 1077.7L514.43 1077.7L514.43 1106.9L512.77 1106.9L512.77 1185.2L511.12 1185.2L511.12 1229.0L509.46 1229.0L509.46 1177.1L508.15 1177.1zM551.22 817.4L552.17 817.4L552.17 1077.7L551.22 1077.7zM605.87 1052.1L607.18 1052.1L607.18 1052.1L608.83 1052.1L608.83 994.4L610.49 994.4L610.49 994.4L612.15 994.4L612.15 972.4L613.80 972.4L613.80 990.7L615.46 990.7L615.46 980.5L617.12 980.5L617.12 946.8L618.77 946.8L618.77 832.1L620.43 832.1L620.43 910.3L622.08 910.3L622.08 868.6L623.74 868.6L623.74 938.8L625.40 938.8L625.40 796.2L627.05 796.2L627.05 997.3L628.71 997.3L628.71 903.0L630.02 903.0L630.02 1077.7L628.71 1077.7L628.71 1077.7L627.05 1077.7L627.05 1077.7L625.40 1077.7L625.40 1077.7L623.74 1077.7L623.74 1077.7L622.08 1077.7L622.08 1077.7L620.43 1077.7L620.43 1077.7L618.77 1077.7L618.77 1077.7L617.12 1077.7L617.12 1077.7L615.46 1077.7L615.46 1077.7L613.80 1077.7L613.80 1077.7L612.15 1077.7L612.15 1077.7L610.49 1077.7L610.49 1077.7L608.83 1077.7L608.83 1077.7L607.18 1077.7L607.18 1077.7L605.87 1077.7zM645.62 1032.4L646.93 1032.4L646.93 997.3L648.58 997.3L648.58 971.0L650.24 971.0L650.24 1050.6L651.90 1050.6L651.90 990.7L653.55 990.7L653.55 915.4L655.21 915.4L655.21 880.3L656.87 880.3L656.87 826.9L658.52 826.9L658.52 897.1L660.18 897.1L660.18 802.8L661.83 802.8L661.83 930.0L663.49 930.0L663.49 915.4L665.15 915.4L665.15 945.4L666.80 945.4L666.80 957.1L668.46 957.1L668.46 1077.7L670.12 1077.7L670.12 1019.2L671.42 1019.2L671.42 1077.7L670.12 1077.7L670.12 1113.5L668.46 1113.5L668.46 1077.7L666.80 1077.7L666.80 1077.7L665.15 1077.7L665.15 1077.7L663.49 1077.7L663.49 1077.7L661.83 1077.7L661.83 1077.7L660.18 1077.7L660.18 1077.7L658.52 1077.7L658.52 1077.7L656.87 1077.7L656.87 1077.7L655.21 1077.7L655.21 1077.7L653.55 1077.7L653.55 1077.7L651.90 1077.7L651.90 1077.7L650.24 1077.7L650.24 1077.7L648.58 1077.7L648.58 1077.7L646.93 1077.7L646.93 1077.7L645.62 1077.7zM685.37 871.5L686.68 871.5L686.68 893.5L688.33 893.5L688.33 908.8L689.99 908.8L689.99 894.9L691.65 894.9L691.65 894.9L693.30 894.9L693.30 928.6L694.96 928.6L694.96 840.1L696.62 840.1L696.62 777.9L697.92 777.9L697.92 1077.7L696.62 1077.7L696.62 1077.7L694.96 1077.7L694.96 1077.7L693.30 1077.7L693.30 1077.7L691.65 1077.7L691.65 1077.7L689.99 1077.7L689.99 1077.7L688.33 1077.7L688.33 1077.7L686.68 1077.7L686.68 1077.7L685.37 1077.7zM706.90 1014.1L708.21 1014.1L708.21 1014.1L709.87 1014.1L709.87 892.7L711.52 892.7L711.52 900.0L712.83 900.0L712.83 1077.7L711.52 1077.7L711.52 1077.7L709.87 1077.7L709.87 1077.7L708.21 1077.7L708.21 1077.7L706.90 1077.7zM725.12 937.3L726.43 937.3L726.43 818.9L728.08 818.9L728.08 900.0L729.39 900.0L729.39 1077.7L728.08 1077.7L728.08 1077.7L726.43 1077.7L726.43 1077.7L725.12 1077.7zM751.62 975.3L752.93 975.3L752.93 975.3L754.58 975.3L754.58 958.5L755.89 958.5L755.89 1077.7L754.58 1077.7L754.58 1077.7L752.93 1077.7L752.93 1077.7L751.62 1077.7zM766.53 988.5L767.83 988.5L767.83 963.6L769.49 963.6L769.49 946.8L770.80 946.8L770.80 1077.7L769.49 1077.7L769.49 1077.7L767.83 1077.7L767.83 1077.7L766.53 1077.7zM786.40 817.4L787.36 817.4L787.36 1077.7L786.40 1077.7zM827.81 834.2L829.12 834.2L829.12 864.2L830.77 864.2L830.77 927.1L832.43 927.1L832.43 897.1L834.08 897.1L834.08 851.8L835.74 851.8L835.74 744.3L837.40 744.3L837.40 763.3L839.05 763.3L839.05 832.1L840.71 832.1L840.71 832.1L842.37 832.1L842.37 946.8L844.02 946.8L844.02 918.3L845.68 918.3L845.68 963.6L847.33 963.6L847.33 943.9L848.99 943.9L848.99 876.6L850.65 876.6L850.65 973.9L852.30 973.9L852.30 833.5L853.96 833.5L853.96 810.1L855.62 810.1L855.62 850.3L857.27 850.3L857.27 795.5L858.93 795.5L858.93 842.3L860.58 842.3L860.58 865.7L862.24 865.7L862.24 1003.9L863.90 1003.9L863.90 868.6L865.55 868.6L865.55 864.2L867.21 864.2L867.21 826.9L868.87 826.9L868.87 901.5L870.52 901.5L870.52 901.5L872.18 901.5L872.18 875.9L873.83 875.9L873.83 850.3L875.14 850.3L875.14 1077.7L873.83 1077.7L873.83 1077.7L872.18 1077.7L872.18 1077.7L870.52 1077.7L870.52 1077.7L868.87 1077.7L868.87 1077.7L867.21 1077.7L867.21 1077.7L865.55 1077.7L865.55 1077.7L863.90 1077.7L863.90 1077.7L862.24 1077.7L862.24 1077.7L860.58 1077.7L860.58 1077.7L858.93 1077.7L858.93 1077.7L857.27 1077.7L857.27 1077.7L855.62 1077.7L855.62 1077.7L853.96 1077.7L853.96 1077.7L852.30 1077.7L852.30 1077.7L850.65 1077.7L850.65 1077.7L848.99 1077.7L848.99 1077.7L847.33 1077.7L847.33 1077.7L845.68 1077.7L845.68 1077.7L844.02 1077.7L844.02 1077.7L842.37 1077.7L842.37 1077.7L840.71 1077.7L840.71 1077.7L839.05 1077.7L839.05 1077.7L837.40 1077.7L837.40 1077.7L835.74 1077.7L835.74 1077.7L834.08 1077.7L834.08 1077.7L832.43 1077.7L832.43 1077.7L830.77 1077.7L830.77 1077.7L829.12 1077.7L829.12 1077.7L827.81 1077.7zM907.31 758.9L908.62 758.9L908.62 693.1L910.27 693.1L910.27 683.6L911.58 683.6L911.58 1077.7L910.27 1077.7L910.27 1077.7L908.62 1077.7L908.62 1077.7L907.31 1077.7zM920.56 644.2L921.87 644.2L921.87 570.3L923.52 570.3L923.52 576.9L925.18 576.9L925.18 701.9L926.83 701.9L926.83 690.2L928.49 690.2L928.49 802.1L930.15 802.1L930.15 761.9L931.80 761.9L931.80 731.9L933.46 731.9L933.46 728.2L934.77 728.2L934.77 1077.7L933.46 1077.7L933.46 1077.7L931.80 1077.7L931.80 1077.7L930.15 1077.7L930.15 1077.7L928.49 1077.7L928.49 1077.7L926.83 1077.7L926.83 1077.7L925.18 1077.7L925.18 1077.7L923.52 1077.7L923.52 1077.7L921.87 1077.7L921.87 1077.7L920.56 1077.7zM947.06 791.8L948.37 791.8L948.37 791.8L950.02 791.8L950.02 753.8L951.68 753.8L951.68 788.9L952.98 788.9L952.98 1077.7L951.68 1077.7L951.68 1077.7L950.02 1077.7L950.02 1077.7L948.37 1077.7L948.37 1077.7L947.06 1077.7zM970.25 666.8L971.55 666.8L971.55 658.0L973.21 658.0L973.21 635.4L974.87 635.4L974.87 571.8L976.52 571.8L976.52 609.1L978.18 609.1L978.18 538.9L979.83 538.9L979.83 513.3L981.49 513.3L981.49 495.7L983.15 495.7L983.15 580.6L984.80 580.6L984.80 564.5L986.46 564.5L986.46 618.6L988.12 618.6L988.12 688.8L989.77 688.8L989.77 716.5L991.08 716.5L991.08 1077.7L989.77 1077.7L989.77 1077.7L988.12 1077.7L988.12 1077.7L986.46 1077.7L986.46 1077.7L984.80 1077.7L984.80 1077.7L983.15 1077.7L983.15 1077.7L981.49 1077.7L981.49 1077.7L979.83 1077.7L979.83 1077.7L978.18 1077.7L978.18 1077.7L976.52 1077.7L976.52 1077.7L974.87 1077.7L974.87 1077.7L973.21 1077.7L973.21 1077.7L971.55 1077.7L971.55 1077.7L970.25 1077.7zM1008.34 716.5L1009.65 716.5L1009.65 716.5L1010.95 716.5L1010.95 1077.7L1009.65 1077.7L1009.65 1077.7L1008.34 1077.7zM1043.12 563.0L1044.43 563.0L1044.43 713.6L1046.08 713.6L1046.08 671.9L1047.74 671.9L1047.74 563.0L1049.40 563.0L1049.40 427.0L1050.70 427.0L1050.70 1077.7L1049.40 1077.7L1049.40 1077.7L1047.74 1077.7L1047.74 1077.7L1046.08 1077.7L1046.08 1077.7L1044.43 1077.7L1044.43 1077.7L1043.12 1077.7z"/>
<path fill="#0077b6" d="M259.72 1077.7L261.02 1077.7L261.02 1077.7L262.68 1077.7L262.68 1077.7L264.33 1077.7L264.33 1077.7L265.64 1077.7L265.64 1232.0L264.33 1232.0L264.33 1242.2L262.68 1242.2L262.68 1164.0L261.02 1164.0L261.02 1251.0L259.72 1251.0zM281.25 1077.7L282.55 1077.7L282.55 1077.7L284.21 1077.7L284.21 1077.7L285.87 1077.7L285.87 1077.7L287.52 1077.7L287.52 1077.7L289.18 1077.7L289.18 1077.7L290.83 1077.7L290.83 1077.7L292.49 1077.7L292.49 1077.7L294.15 1077.7L294.15 1077.7L295.80 1077.7L295.80 1077.7L297.11 1077.7L297.11 1240.0L295.80 1240.0L295.80 1346.7L294.15 1346.7L294.15 1346.7L292.49 1346.7L292.49 1280.2L290.83 1280.2L290.83 1323.3L289.18 1323.3L289.18 1323.3L287.52 1323.3L287.52 1441.8L285.87 1441.8L285.87 1247.3L284.21 1247.3L284.21 1381.8L282.55 1381.8L282.55 1381.8L281.25 1381.8zM349.15 1077.7L350.46 1077.7L350.46 1035.3L352.12 1035.3L352.12 1066.0L353.77 1066.0L353.77 1077.7L355.43 1077.7L355.43 1070.4L357.08 1070.4L357.08 1077.7L358.74 1077.7L358.74 1077.7L360.40 1077.7L360.40 1077.7L362.05 1077.7L362.05 1077.7L363.71 1077.7L363.71 1077.7L365.37 1077.7L365.37 1077.7L367.02 1077.7L367.02 1077.7L368.68 1077.7L368.68 1077.7L370.33 1077.7L370.33 1077.7L371.64 1077.7L371.64 1257.6L370.33 1257.6L370.33 1177.1L368.68 1177.1L368.68 1196.9L367.02 1196.9L367.02 1180.8L365.37 1180.8L365.37 1374.5L363.71 1374.5L363.71 1202.0L362.05 1202.0L362.05 1320.4L360.40 1320.4L360.40 1160.3L358.74 1160.3L358.74 1082.1L357.08 1082.1L357.08 1077.7L355.43 1077.7L355.43 1100.4L353.77 1100.4L353.77 1077.7L352.12 1077.7L352.12 1077.7L350.46 1077.7L350.46 1082.1L349.15 1082.1zM494.90 1028.0L496.21 1028.0L496.21 1045.5L497.87 1045.5L497.87 1045.5L499.52 1045.5L499.52 1068.9L501.18 1068.9L501.18 1077.7L502.83 1077.7L502.83 1077.7L504.49 1077.7L504.49 1077.7L506.15 1077.7L506.15 1077.7L507.45 1077.7L507.45 1161.8L506.15 1161.8L506.15 1096.7L504.49 1096.7L504.49 1200.5L502.83 1200.5L502.83 1180.8L501.18 1180.8L501.18 1077.7L499.52 1077.7L499.52 1077.7L497.87 1077.7L497.87 1077.7L496.21 1077.7L496.21 1077.7L494.90 1077.7zM552.87 867.1L554.18 867.1L554.18 847.4L555.83 847.4L555.83 973.9L557.49 973.9L557.49 1032.4L559.15 1032.4L559.15 1077.7L560.80 1077.7L560.80 997.3L562.46 997.3L562.46 1077.7L564.12 1077.7L564.12 969.5L565.77 969.5L565.77 1077.7L567.43 1077.7L567.43 1077.7L569.08 1077.7L569.08 1077.7L570.74 1077.7L570.74 1077.7L572.40 1077.7L572.40 1077.7L574.05 1077.7L574.05 1077.7L575.71 1077.7L575.71 1077.7L577.37 1077.7L577.37 1077.7L579.02 1077.7L579.02 1077.7L580.68 1077.7L580.68 1077.7L582.33 1077.7L582.33 1077.7L583.99 1077.7L583.99 1033.8L585.65 1033.8L585.65 1077.7L587.30 1077.7L587.30 1005.3L588.96 1005.3L588.96 1077.7L590.62 1077.7L590.62 1077.7L592.27 1077.7L592.27 1077.7L593.93 1077.7L593.93 1077.7L595.58 1077.7L595.58 1077.7L597.24 1077.7L597.24 1077.7L598.90 1077.7L598.90 1077.7L600.55 1077.7L600.55 1077.7L602.21 1077.7L602.21 1077.7L603.87 1077.7L603.87 1077.7L605.17 1077.7L605.17 1140.6L603.87 1140.6L603.87 1140.6L602.21 1140.6L602.21 1183.0L600.55 1183.0L600.55 1158.1L598.90 1158.1L598.90 1192.5L597.24 1192.5L597.24 1157.4L595.58 1157.4L595.58 1108.4L593.93 1108.4L593.93 1129.6L592.27 1129.6L592.27 1129.6L590.62 1129.6L590.62 1120.1L588.96 1120.1L588.96 1077.7L587.30 1077.7L587.30 1093.8L585.65 1093.8L585.65 1077.7L583.99 1077.7L583.99 1223.2L582.33 1223.2L582.33 1125.2L580.68 1125.2L580.68 1096.7L579.02 1096.7L579.02 1125.2L577.37 1125.2L577.37 1123.8L575.71 1123.8L575.71 1123.8L574.05 1123.8L574.05 1120.1L572.40 1120.1L572.40 1120.1L570.74 1120.1L570.74 1177.1L569.08 1177.1L569.08 1165.4L567.43 1165.4L567.43 1222.5L565.77 1222.5L565.77 1077.7L564.12 1077.7L564.12 1103.3L562.46 1103.3L562.46 1077.7L560.80 1077.7L560.80 1082.1L559.15 1082.1L559.15 1077.7L557.49 1077.7L557.49 1077.7L555.83 1077.7L555.83 1077.7L554.18 1077.7L554.18 1077.7L552.87 1077.7zM698.62 808.7L699.93 808.7L699.93 859.1L701.58 859.1L701.58 968.8L703.24 968.8L703.24 869.3L704.90 869.3L704.90 945.4L706.20 945.4L706.20 1077.7L704.90 1077.7L704.90 1077.7L703.24 1077.7L703.24 1077.7L701.58 1077.7L701.58 1077.7L699.93 1077.7L699.93 1077.7L698.62 1077.7zM730.09 968.8L731.40 968.8L731.40 952.7L733.05 952.7L733.05 963.6L734.71 963.6L734.71 998.7L736.37 998.7L736.37 913.9L738.02 913.9L738.02 933.7L739.68 933.7L739.68 998.0L741.33 998.0L741.33 1077.7L742.99 1077.7L742.99 1047.0L744.65 1047.0L744.65 922.0L746.30 922.0L746.30 1038.2L747.96 1038.2L747.96 1038.2L749.62 1038.2L749.62 1077.7L750.92 1077.7L750.92 1095.2L749.62 1095.2L749.62 1077.7L747.96 1077.7L747.96 1077.7L746.30 1077.7L746.30 1077.7L744.65 1077.7L744.65 1077.7L742.99 1077.7L742.99 1177.1L741.33 1177.1L741.33 1077.7L739.68 1077.7L739.68 1077.7L738.02 1077.7L738.02 1077.7L736.37 1077.7L736.37 1077.7L734.71 1077.7L734.71 1077.7L733.05 1077.7L733.05 1077.7L731.40 1077.7L731.40 1077.7L730.09 1077.7zM756.59 960.7L757.90 960.7L757.90 867.9L759.55 867.9L759.55 960.7L761.21 960.7L761.21 895.7L762.87 895.7L762.87 960.7L764.52 960.7L764.52 1025.1L765.83 1025.1L765.83 1077.7L764.52 1077.7L764.52 1077.7L762.87 1077.7L762.87 1077.7L761.21 1077.7L761.21 1077.7L759.55 1077.7L759.55 1077.7L757.90 1077.7L757.90 1077.7L756.59 1077.7zM788.06 916.9L789.37 916.9L789.37 888.3L791.02 888.3L791.02 916.9L792.68 916.9L792.68 916.9L794.33 916.9L794.33 862.8L795.99 862.8L795.99 818.9L797.65 818.9L797.65 807.2L799.30 807.2L799.30 1004.6L800.96 1004.6L800.96 1004.6L802.62 1004.6L802.62 1062.3L804.27 1062.3L804.27 979.7L805.93 979.7L805.93 935.1L807.58 935.1L807.58 990.7L809.24 990.7L809.24 1070.4L810.90 1070.4L810.90 852.5L812.55 852.5L812.55 869.3L814.21 869.3L814.21 900.8L815.87 900.8L815.87 881.8L817.52 881.8L817.52 973.9L819.18 973.9L819.18 961.5L820.83 961.5L820.83 1058.7L822.49 1058.7L822.49 1063.8L824.15 1063.8L824.15 1036.8L825.80 1036.8L825.80 905.2L827.11 905.2L827.11 1077.7L825.80 1077.7L825.80 1077.7L824.15 1077.7L824.15 1077.7L822.49 1077.7L822.49 1077.7L820.83 1077.7L820.83 1077.7L819.18 1077.7L819.18 1077.7L817.52 1077.7L817.52 1077.7L815.87 1077.7L815.87 1077.7L814.21 1077.7L814.21 1077.7L812.55 1077.7L812.55 1077.7L810.90 1077.7L810.90 1077.7L809.24 1077.7L809.24 1077.7L807.58 1077.7L807.58 1077.7L805.93 1077.7L805.93 1077.7L804.27 1077.7L804.27 1077.7L802.62 1077.7L802.62 1077.7L800.96 1077.7L800.96 1077.7L799.30 1077.7L799.30 1077.7L797.65 1077.7L797.65 1077.7L795.99 1077.7L795.99 1077.7L794.33 1077.7L794.33 1077.7L792.68 1077.7L792.68 1077.7L791.02 1077.7L791.02 1077.7L789.37 1077.7L789.37 1077.7L788.06 1077.7zM912.28 657.3L913.58 657.3L913.58 673.4L915.24 673.4L915.24 653.7L916.90 653.7L916.90 609.1L918.55 609.1L918.55 688.8L919.86 688.8L919.86 1077.7L918.55 1077.7L918.55 1077.7L916.90 1077.7L916.90 1077.7L915.24 1077.7L915.24 1077.7L913.58 1077.7L913.58 1077.7L912.28 1077.7zM935.47 640.5L936.77 640.5L936.77 721.7L938.43 721.7L938.43 661.0L940.08 661.0L940.08 761.9L941.74 761.9L941.74 741.4L943.40 741.4L943.40 735.5L945.05 735.5L945.05 721.7L946.36 721.7L946.36 1077.7L945.05 1077.7L945.05 1077.7L943.40 1077.7L943.40 1077.7L941.74 1077.7L941.74 1077.7L940.08 1077.7L940.08 1077.7L938.43 1077.7L938.43 1077.7L936.77 1077.7L936.77 1077.7L935.47 1077.7zM991.78 753.8L993.08 753.8L993.08 618.6L994.74 618.6L994.74 617.1L996.40 617.1L996.40 511.8L998.05 511.8L998.05 760.4L999.71 760.4L999.71 890.5L1001.37 890.5L1001.37 797.0L1003.02 797.0L1003.02 803.5L1004.68 803.5L1004.68 772.8L1006.33 772.8L1006.33 772.8L1007.64 772.8L1007.64 1077.7L1006.33 1077.7L1006.33 1077.7L1004.68 1077.7L1004.68 1077.7L1003.02 1077.7L1003.02 1077.7L1001.37 1077.7L1001.37 1077.7L999.71 1077.7L999.71 1077.7L998.05 1077.7L998.05 1077.7L996.40 1077.7L996.40 1077.7L994.74 1077.7L994.74 1077.7L993.08 1077.7L993.08 1077.7L991.78 1077.7zM1011.65 720.2L1012.96 720.2L1012.96 642.0L1014.62 642.0L1014.62 594.4L1016.27 594.4L1016.27 652.2L1017.93 652.2L1017.93 698.3L1019.58 698.3L1019.58 737.0L1021.24 737.0L1021.24 765.5L1022.90 765.5L1022.90 649.3L1024.55 649.3L1024.55 737.0L1026.21 737.0L1026.21 772.8L1027.87 772.8L1027.87 726.0L1029.52 726.0L1029.52 680.7L1031.18 680.7L1031.18 731.9L1032.83 731.9L1032.83 679.3L1034.49 679.3L1034.49 603.9L1036.15 603.9L1036.15 785.3L1037.80 785.3L1037.80 735.5L1039.46 735.5L1039.46 758.9L1041.12 758.9L1041.12 721.7L1042.42 721.7L1042.42 1077.7L1041.12 1077.7L1041.12 1077.7L1039.46 1077.7L1039.46 1077.7L1037.80 1077.7L1037.80 1077.7L1036.15 1077.7L1036.15 1077.7L1034.49 1077.7L1034.49 1077.7L1032.83 1077.7L1032.83 1077.7L1031.18 1077.7L1031.18 1077.7L1029.52 1077.7L1029.52 1077.7L1027.87 1077.7L1027.87 1077.7L1026.21 1077.7L1026.21 1077.7L1024.55 1077.7L1024.55 1077.7L1022.90 1077.7L1022.90 1077.7L1021.24 1077.7L1021.24 1077.7L1019.58 1077.7L1019.58 1077.7L1017.93 1077.7L1017.93 1077.7L1016.27 1077.7L1016.27 1077.7L1014.62 1077.7L1014.62 1077.7L1012.96 1077.7L1012.96 1077.7L1011.65 1077.7z"/>
<path fill="#c70000" d="M180.22 1077.7L181.52 1077.7L181.52 1077.7L183.18 1077.7L183.18 1029.4L184.83 1029.4L184.83 1077.7L186.49 1077.7L186.49 1077.7L187.80 1077.7L187.80 1115.0L186.49 1115.0L186.49 1157.4L184.83 1157.4L184.83 1077.7L183.18 1077.7L183.18 1185.2L181.52 1185.2L181.52 1169.1L180.22 1169.1zM229.90 1077.7L231.21 1077.7L231.21 1077.7L232.87 1077.7L232.87 1077.7L234.52 1077.7L234.52 1077.7L236.18 1077.7L236.18 1077.7L237.83 1077.7L237.83 1077.7L239.49 1077.7L239.49 1077.7L241.15 1077.7L241.15 1077.7L242.80 1077.7L242.80 1077.7L244.46 1077.7L244.46 1049.2L246.12 1049.2L246.12 1077.7L247.77 1077.7L247.77 1077.7L249.43 1077.7L249.43 1077.7L251.08 1077.7L251.08 1058.7L252.74 1058.7L252.74 1077.7L254.40 1077.7L254.40 1077.7L255.70 1077.7L255.70 1143.5L254.40 1143.5L254.40 1143.5L252.74 1143.5L252.74 1077.7L251.08 1077.7L251.08 1147.2L249.43 1147.2L249.43 1147.2L247.77 1147.2L247.77 1083.5L246.12 1083.5L246.12 1077.7L244.46 1077.7L244.46 1103.3L242.80 1103.3L242.80 1285.3L241.15 1285.3L241.15 1285.3L239.49 1285.3L239.49 1278.8L237.83 1278.8L237.83 1278.8L236.18 1278.8L236.18 1202.0L234.52 1202.0L234.52 1257.6L232.87 1257.6L232.87 1232.0L231.21 1232.0L231.21 1337.2L229.90 1337.2zM317.68 1077.7L318.99 1077.7L318.99 1077.7L320.65 1077.7L320.65 1077.7L322.30 1077.7L322.30 1077.7L323.96 1077.7L323.96 1077.7L325.62 1077.7L325.62 1077.7L327.27 1077.7L327.27 1077.7L328.93 1077.7L328.93 1077.7L330.58 1077.7L330.58 1077.7L332.24 1077.7L332.24 1077.7L333.90 1077.7L333.90 1021.4L335.55 1021.4L335.55 1077.7L337.21 1077.7L337.21 1077.7L338.87 1077.7L338.87 1077.7L340.52 1077.7L340.52 1077.7L342.18 1077.7L342.18 1025.1L343.83 1025.1L343.83 1034.6L345.49 1034.6L345.49 1077.7L347.15 1077.7L347.15 1077.7L348.45 1077.7L348.45 1082.1L347.15 1082.1L347.15 1177.1L345.49 1177.1L345.49 1077.7L343.83 1077.7L343.83 1077.7L342.18 1077.7L342.18 1177.1L340.52 1177.1L340.52 1155.2L338.87 1155.2L338.87 1096.7L337.21 1096.7L337.21 1147.2L335.55 1147.2L335.55 1077.7L333.90 1077.7L333.90 1079.9L332.24 1079.9L332.24 1160.3L330.58 1160.3L330.58 1188.8L328.93 1188.8L328.93 1287.5L327.27 1287.5L327.27 1145.7L325.62 1145.7L325.62 1145.7L323.96 1145.7L323.96 1271.4L322.30 1271.4L322.30 1271.4L320.65 1271.4L320.65 1325.5L318.99 1325.5L318.99 1332.1L317.68 1332.1zM410.43 1077.7L411.74 1077.7L411.74 930.0L413.40 930.0L413.40 991.4L415.05 991.4L415.05 1052.1L416.71 1052.1L416.71 1077.7L418.37 1077.7L418.37 1077.7L420.02 1077.7L420.02 1077.7L421.68 1077.7L421.68 1077.7L423.33 1077.7L423.33 1077.7L424.99 1077.7L424.99 1077.7L426.65 1077.7L426.65 1077.7L428.30 1077.7L428.30 1077.7L429.96 1077.7L429.96 1077.7L431.62 1077.7L431.62 1077.7L432.92 1077.7L432.92 1185.2L431.62 1185.2L431.62 1207.1L429.96 1207.1L429.96 1251.0L428.30 1251.0L428.30 1177.1L426.65 1177.1L426.65 1117.2L424.99 1117.2L424.99 1090.1L423.33 1090.1L423.33 1178.6L421.68 1178.6L421.68 1165.4L420.02 1165.4L420.02 1157.4L418.37 1157.4L418.37 1082.1L416.71 1082.1L416.71 1077.7L415.05 1077.7L415.05 1077.7L413.40 1077.7L413.40 1077.7L411.74 1077.7L411.74 1089.4L410.43 1089.4zM476.68 1077.7L477.99 1077.7L477.99 1077.7L479.65 1077.7L479.65 1077.7L481.30 1077.7L481.30 1077.7L482.96 1077.7L482.96 1033.1L484.62 1033.1L484.62 886.2L486.27 886.2L486.27 1077.7L487.58 1077.7L487.58 1108.4L486.27 1108.4L486.27 1077.7L484.62 1077.7L484.62 1077.7L482.96 1077.7L482.96 1131.1L481.30 1131.1L481.30 1088.7L479.65 1088.7L479.65 1115.0L477.99 1115.0L477.99 1110.6L476.68 1110.6zM529.68 1077.7L530.99 1077.7L530.99 1009.7L532.65 1009.7L532.65 1074.0L534.30 1074.0L534.30 1047.0L535.96 1047.0L535.96 981.2L537.62 981.2L537.62 941.0L539.27 941.0L539.27 918.3L540.93 918.3L540.93 968.8L542.58 968.8L542.58 968.8L544.24 968.8L544.24 821.1L545.90 821.1L545.90 962.2L547.55 962.2L547.55 856.9L549.21 856.9L549.21 830.6L550.52 830.6L550.52 1077.7L549.21 1077.7L549.21 1077.7L547.55 1077.7L547.55 1077.7L545.90 1077.7L545.90 1077.7L544.24 1077.7L544.24 1077.7L542.58 1077.7L542.58 1077.7L540.93 1077.7L540.93 1077.7L539.27 1077.7L539.27 1077.7L537.62 1077.7L537.62 1077.7L535.96 1077.7L535.96 1077.7L534.30 1077.7L534.30 1077.7L532.65 1077.7L532.65 1077.7L530.99 1077.7L530.99 1145.7L529.68 1145.7zM630.72 932.9L632.02 932.9L632.02 932.9L633.68 932.9L633.68 932.2L635.33 932.2L635.33 931.5L636.99 931.5L636.99 945.4L638.65 945.4L638.65 962.9L640.30 962.9L640.30 945.4L641.96 945.4L641.96 861.3L643.62 861.3L643.62 998.0L644.92 998.0L644.92 1077.7L643.62 1077.7L643.62 1077.7L641.96 1077.7L641.96 1077.7L640.30 1077.7L640.30 1077.7L638.65 1077.7L638.65 1077.7L636.99 1077.7L636.99 1077.7L635.33 1077.7L635.33 1077.7L633.68 1077.7L633.68 1077.7L632.02 1077.7L632.02 1077.7L630.72 1077.7zM672.12 1077.7L673.43 1077.7L673.43 1067.5L675.08 1067.5L675.08 963.6L676.74 963.6L676.74 898.6L678.40 898.6L678.40 853.3L680.05 853.3L680.05 1002.4L681.71 1002.4L681.71 831.3L683.37 831.3L683.37 930.0L684.67 930.0L684.67 1077.7L683.37 1077.7L683.37 1077.7L681.71 1077.7L681.71 1077.7L680.05 1077.7L680.05 1077.7L678.40 1077.7L678.40 1077.7L676.74 1077.7L676.74 1077.7L675.08 1077.7L675.08 1077.7L673.43 1077.7L673.43 1158.1L672.12 1158.1zM713.53 898.6L714.83 898.6L714.83 899.3L716.49 899.3L716.49 802.8L718.15 802.8L718.15 830.6L719.80 830.6L719.80 790.4L721.46 790.4L721.46 673.4L723.12 673.4L723.12 870.1L724.42 870.1L724.42 1077.7L723.12 1077.7L723.12 1077.7L721.46 1077.7L721.46 1077.7L719.80 1077.7L719.80 1077.7L718.15 1077.7L718.15 1077.7L716.49 1077.7L716.49 1077.7L714.83 1077.7L714.83 1077.7L713.53 1077.7zM771.50 856.2L772.80 856.2L772.80 916.9L774.46 916.9L774.46 858.4L776.12 858.4L776.12 845.2L777.77 845.2L777.77 802.1L779.43 802.1L779.43 882.5L781.08 882.5L781.08 797.0L782.74 797.0L782.74 772.1L784.40 772.1L784.40 739.9L785.70 739.9L785.70 1077.7L784.40 1077.7L784.40 1077.7L782.74 1077.7L782.74 1077.7L781.08 1077.7L781.08 1077.7L779.43 1077.7L779.43 1077.7L777.77 1077.7L777.77 1077.7L776.12 1077.7L776.12 1077.7L774.46 1077.7L774.46 1077.7L772.80 1077.7L772.80 1077.7L771.50 1077.7zM875.84 783.8L877.15 783.8L877.15 867.1L878.80 867.1L878.80 795.5L880.46 795.5L880.46 797.0L882.12 797.0L882.12 788.9L883.77 788.9L883.77 769.2L885.43 769.2L885.43 903.7L887.08 903.7L887.08 832.1L888.74 832.1L888.74 815.2L890.40 815.2L890.40 843.7L892.05 843.7L892.05 773.6L893.71 773.6L893.71 739.9L895.37 739.9L895.37 580.6L897.02 580.6L897.02 622.2L898.68 622.2L898.68 538.9L900.33 538.9L900.33 533.8L901.99 533.8L901.99 431.4L903.65 431.4L903.65 478.2L905.30 478.2L905.30 557.9L906.61 557.9L906.61 1077.7L905.30 1077.7L905.30 1077.7L903.65 1077.7L903.65 1077.7L901.99 1077.7L901.99 1077.7L900.33 1077.7L900.33 1077.7L898.68 1077.7L898.68 1077.7L897.02 1077.7L897.02 1077.7L895.37 1077.7L895.37 1077.7L893.71 1077.7L893.71 1077.7L892.05 1077.7L892.05 1077.7L890.40 1077.7L890.40 1077.7L888.74 1077.7L888.74 1077.7L887.08 1077.7L887.08 1077.7L885.43 1077.7L885.43 1077.7L883.77 1077.7L883.77 1077.7L882.12 1077.7L882.12 1077.7L880.46 1077.7L880.46 1077.7L878.80 1077.7L878.80 1077.7L877.15 1077.7L877.15 1077.7L875.84 1077.7zM953.68 788.9L954.99 788.9L954.99 644.2L956.65 644.2L956.65 690.9L958.30 690.9L958.30 730.4L959.96 730.4L959.96 728.2L961.62 728.2L961.62 708.5L963.27 708.5L963.27 565.2L964.93 565.2L964.93 625.9L966.58 625.9L966.58 698.3L968.24 698.3L968.24 682.9L969.55 682.9L969.55 1077.7L968.24 1077.7L968.24 1077.7L966.58 1077.7L966.58 1077.7L964.93 1077.7L964.93 1077.7L963.27 1077.7L963.27 1077.7L961.62 1077.7L961.62 1077.7L959.96 1077.7L959.96 1077.7L958.30 1077.7L958.30 1077.7L956.65 1077.7L956.65 1077.7L954.99 1077.7L954.99 1077.7L953.68 1077.7z"/>

<rect x="30" y="1074.6" width="1050" height="6.3" fill="#1e1e1e"/>
<rect x="702.6" y="310" width="243" height="50" fill="#fff"/>
<text class="an" x="747.80" y="348.0" textLength="169.90" lengthAdjust="spacingAndGlyphs">July 2023</text>
<text class="an" x="494.90" y="396.8" textLength="421.30" lengthAdjust="spacingAndGlyphs">El Niño conditions present</text>
<path d="M935.6 380.2 H997 Q1035 383 1048.2 419.3" fill="none" stroke="#333" stroke-width="3.2" stroke-linecap="round"/>
<rect x="669" y="1245" width="339.6" height="40" fill="#fff"/>
<text class="an" x="722.30" y="1276.5" textLength="264.70" lengthAdjust="spacingAndGlyphs">El Niño declared</text>
<text class="an" x="696.60" y="1324.7" textLength="289.20" lengthAdjust="spacingAndGlyphs">by WMO on 4 July</text>
<path d="M1063.7 1100.6 C1064.8 1164.9 1037.2 1210.5 1002.4 1246.7" fill="none" stroke="#333" stroke-width="3.2"/>
</svg></body></html>
